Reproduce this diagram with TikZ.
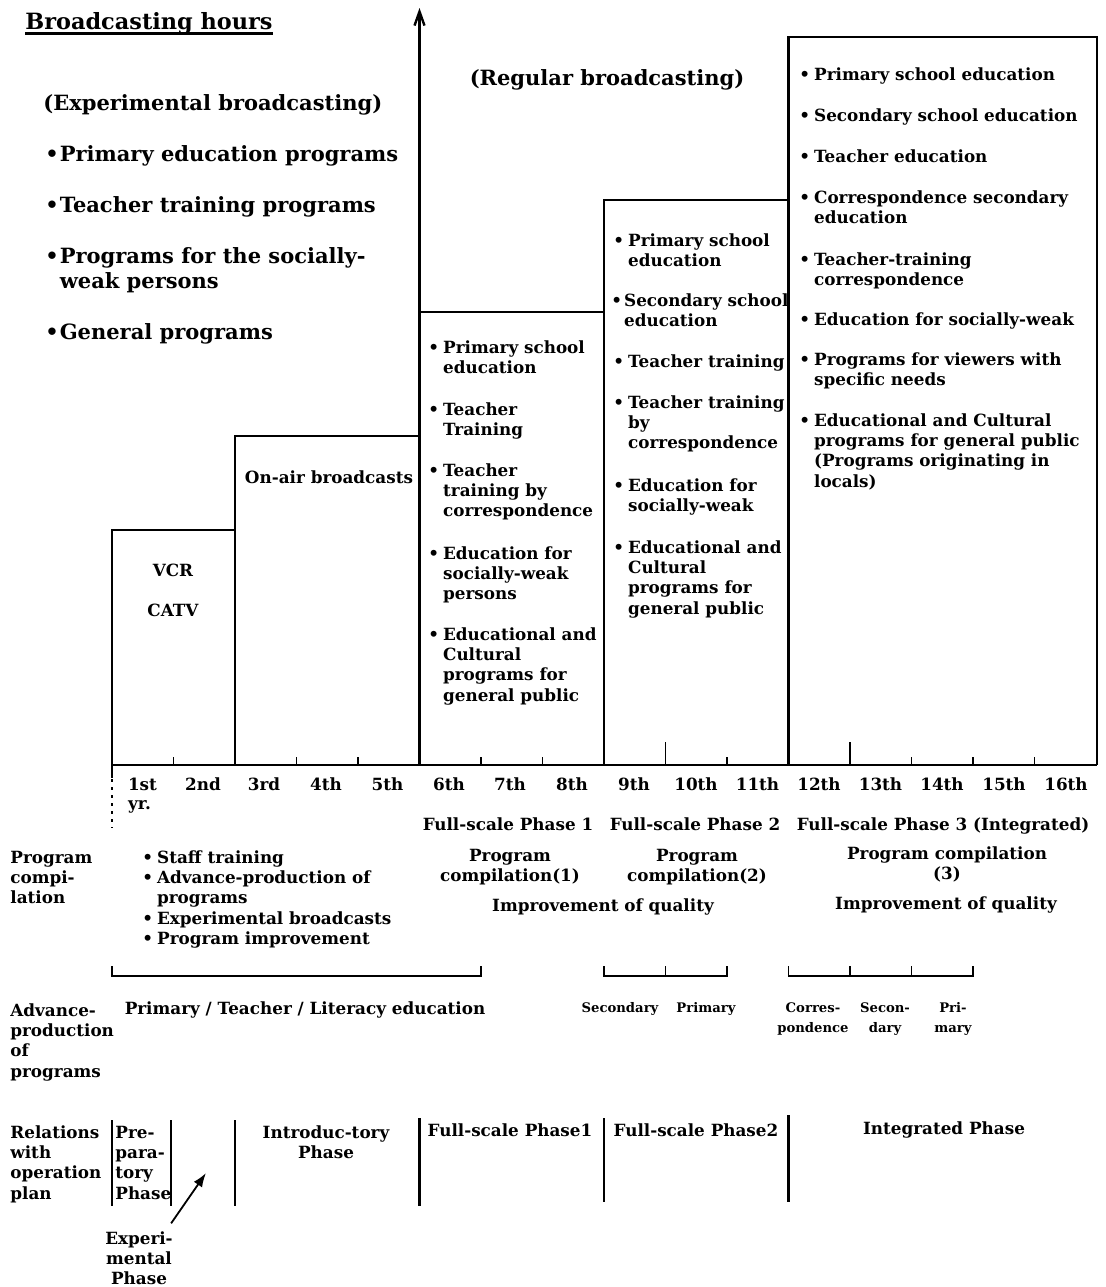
\documentclass[tikz,border=0pt]{standalone}
\usepackage{fontspec}
\setmainfont{DejaVu Serif}
\usetikzlibrary{positioning,arrows.meta}

% bullet item, wrapped lines start with &
\newcommand{\bl}[2][2pt]{\begin{tabular}[t]{@{}l@{\hspace{#1}}l@{}}\textbullet&#2\end{tabular}}
% plain stacked lines
\newcommand{\ls}[2][l]{\begin{tabular}[t]{@{}#1@{}}#2\end{tabular}}

\begin{document}
\begin{tikzpicture}[x=0.5pt,y=-0.5pt,
  font=\fontsize{8.4}{10.2}\selectfont\bfseries,
  every node/.style={inner sep=0pt},
  big/.style={font=\fontsize{10.5}{12.5}\selectfont\bfseries},
  small/.style={font=\fontsize{6.6}{10}\selectfont\bfseries},
  ln/.style={line width=1.2pt},
  tk/.style={line width=0.9pt},
  arr/.style={line width=0.9pt,-{Latex[length=7pt,width=5pt]}}]
\useasboundingbox (0,0) rectangle (1105,1287);
% the steps of broadcasting hours
\draw[ln] (112,778) -- (112,530) -- (235,530) -- (235,436) -- (419.5,436);
\draw[ln] (419.5,312) -- (604,312) -- (604,200) -- (788.5,200) -- (788.5,37) -- (1097,37) -- (1097,765);
\draw[ln] (112,765) -- (1097,765);
\draw[ln] (235,530) -- (235,765);
\draw[ln] (604,312) -- (604,765);
\draw[ln] (788.5,200) -- (788.5,765);
\draw[ln,-{Straight Barb[length=7pt,width=5pt]}] (419.5,765) -- (419.5,8);
\draw[ln,dash pattern=on 1.5pt off 2.5pt] (112,779) -- (112,828);
% year ticks
\draw[tk] (173.5,765) -- (173.5,757);
\draw[tk] (296.5,765) -- (296.5,757);
\draw[tk] (358,765) -- (358,757);
\draw[tk] (481,765) -- (481,757);
\draw[tk] (542.5,765) -- (542.5,757);
\draw[tk] (665.5,765) -- (665.5,742);
\draw[tk] (727,765) -- (727,757);
\draw[tk] (850,765) -- (850,742);
\draw[tk] (911.5,765) -- (911.5,757);
\draw[tk] (973,765) -- (973,757);
\draw[tk] (1034.5,765) -- (1034.5,757);
% years
\node[anchor=base] (y1) at (142.5,790) {1st};
\node[anchor=base west] (yr) at ([yshift=-9.5pt]y1.base west) {yr.};
\node[anchor=base] (y2) at (203,790) {2nd};
\node[anchor=base] (y3) at (264,790) {3rd};
\node[anchor=base] (y4) at (326,790) {4th};
\node[anchor=base] (y5) at (387.5,790) {5th};
\node[anchor=base] (y6) at (449,790) {6th};
\node[anchor=base] (y7) at (510,790) {7th};
\node[anchor=base] (y8) at (572,790) {8th};
\node[anchor=base] (y9) at (634,790) {9th};
\node[anchor=base] (y10) at (696,790) {10th};
\node[anchor=base] (y11) at (757.5,790) {11th};
\node[anchor=base] (y12) at (819,790) {12th};
\node[anchor=base] (y13) at (880.5,790) {13th};
\node[anchor=base] (y14) at (942,790) {14th};
\node[anchor=base] (y15) at (1004,790) {15th};
\node[anchor=base] (y16) at (1066,790) {16th};

% experimental broadcasting
\node[big,font=\fontsize{11.2}{12.5}\selectfont\bfseries,anchor=base west] (title) at (25,29) {Broadcasting hours};
\draw[line width=1.3pt] ([yshift=-2.2pt]title.base west) -- ([yshift=-2.2pt]title.base east);
\node[big,anchor=base west] (exper) at (43,110) {(Experimental broadcasting)};
\node[big,anchor=base west] (ep1) at (45,161) {\bl[0.5pt]{Primary education programs}};
\node[big,anchor=base west] (ep2) at (45,212) {\bl[0.5pt]{Teacher training programs}};
\node[big,anchor=base west] (ep3) at (45,263) {\bl[0.5pt]{Programs for the socially-\\&weak persons}};
\node[big,anchor=base west] (ep4) at (45,339) {\bl[0.5pt]{General programs}};
\node[big,anchor=base] (regular) at (607,85) {(Regular broadcasting)};
\node[anchor=base] (vcr) at (173,576) {VCR};
\node[anchor=base] (catv) at (173,616) {CATV};
\node[anchor=base] (onair) at (329,483) {On-air broadcasts};

% phase 1 box
\node[anchor=base west] (a1) at (428,353) {\bl{Primary school\\&education}};
\node[anchor=base west] (a2) at (428,415) {\bl{Teacher\\&Training}};
\node[anchor=base west] (a3) at (428,476) {\bl{Teacher\\&training by\\&correspondence}};
\node[anchor=base west] (a4) at (428,559) {\bl{Education for\\&socially-weak\\&persons}};
\node[anchor=base west] (a5) at (428,640) {\bl{Educational and\\&Cultural\\&programs for\\&general public}};
% phase 2 box
\node[anchor=base west] (b1) at (613,246) {\bl{Primary school\\&education}};
\node[anchor=base west] (b2) at (611,306) {\bl[1pt]{Secondary school\\&education}};
\node[anchor=base west] (b3) at (613,367) {\bl{Teacher training}};
\node[anchor=base west] (b4) at (613,408) {\bl{Teacher training\\&by\\&correspondence}};
\node[anchor=base west] (b5) at (613,491) {\bl{Education for\\&socially-weak}};
\node[anchor=base west] (b6) at (613,553) {\bl{Educational and\\&Cultural\\&programs for\\&general public}};
% phase 3 box
\node[anchor=base west] (c1) at (799,80) {\bl{Primary school education}};
\node[anchor=base west] (c2) at (799,121) {\bl{Secondary school education}};
\node[anchor=base west] (c3) at (799,162) {\bl{Teacher education}};
\node[anchor=base west] (c4) at (799,203) {\bl{Correspondence secondary\\&education}};
\node[anchor=base west] (c5) at (799,265) {\bl{Teacher-training\\&correspondence}};
\node[anchor=base west] (c6) at (799,325) {\bl{Education for socially-weak}};
\node[anchor=base west] (c7) at (799,365) {\bl{Programs for viewers with\\&specific needs}};
\node[anchor=base west] (c8) at (799,426) {\bl{Educational and Cultural\\&programs for general public\\&(Programs originating in\\&locals)}};

% program compilation
\node[anchor=base] (fs1) at (508,830) {Full-scale Phase 1};
\node[anchor=base] (fs2) at (695,830) {Full-scale Phase 2};
\node[anchor=base] (fs3) at (943,830) {Full-scale Phase 3 (Integrated)};
\node[anchor=base west] (lpc) at (10,863) {\ls{Program\\compi-\\lation}};
\node[anchor=base west] (staff) at (142,863) {\bl{Staff training\\ \textbullet&Advance-production of\\&programs\\ \textbullet&Experimental broadcasts\\ \textbullet&Program improvement}};
\node[anchor=base] (pc1) at (510,861) {\ls[c]{Program\\compilation(1)}};
\node[anchor=base] (pc2) at (697,861) {\ls[c]{Program\\compilation(2)}};
\node[anchor=base] (pc3) at (947,859) {\ls[c]{Program compilation\\(3)}};
\node[anchor=base] (iq1) at (603,911) {Improvement of quality};
\node[anchor=base] (iq2) at (946,909) {Improvement of quality};

% advance-production
\draw[tk] (112,966) -- (112,976) -- (481,976) -- (481,966);
\draw[tk] (604,966) -- (604,976) -- (727,976) -- (727,966);
\draw[tk] (665.5,976) -- (665.5,966);
\draw[tk] (788.5,966) -- (788.5,976) -- (973,976) -- (973,966);
\draw[tk] (850,976) -- (850,966);
\draw[tk] (911.5,976) -- (911.5,966);
\node[anchor=base west] (lap) at (10,1016) {\ls{Advance-\\production\\of\\programs}};
\node[anchor=base] (pte) at (305,1014) {Primary / Teacher / Literacy education};
\node[small,anchor=base] (sec1) at (620,1012) {Secondary};
\node[small,anchor=base] (pri1) at (706,1012) {Primary};
\node[small,anchor=base] (cor) at (813,1012) {\ls[c]{Corres-\\pondence}};
\node[small,anchor=base] (sec2) at (885,1012) {\ls[c]{Secon-\\dary}};
\node[small,anchor=base] (pri2) at (953,1012) {\ls[c]{Pri-\\mary}};

% relations with operation plan
\node[anchor=base west] (lrel) at (10,1138) {\ls{Relations\\with\\operation\\plan}};
\draw[ln] (112,1120) -- (112,1206);
\draw[ln] (171,1120) -- (171,1206);
\draw[ln] (235,1120) -- (235,1206);
\draw[ln] (419.5,1118) -- (419.5,1206);
\draw[ln] (604,1118) -- (604,1202);
\draw[ln] (788.5,1115) -- (788.5,1202);
\node[anchor=base west] (prep) at (115,1138) {\ls{Pre-\\para-\\tory\\Phase}};
\node[anchor=base] (intro) at (326,1138) {\ls[c]{Introduc-tory\\Phase}};
\node[anchor=base] (fsp1) at (510,1136) {Full-scale Phase1};
\node[anchor=base] (fsp2) at (696,1136) {Full-scale Phase2};
\node[anchor=base] (integ) at (944,1134) {Integrated Phase};
\node[anchor=base] (expl) at (139,1244) {\ls[c]{Experi-\\mental\\Phase}};
\coordinate (exptip) at (206,1173);
\draw[arr] ([shift={(-1pt,3pt)}]expl.north east) -- (exptip);
\end{tikzpicture}
\end{document}
